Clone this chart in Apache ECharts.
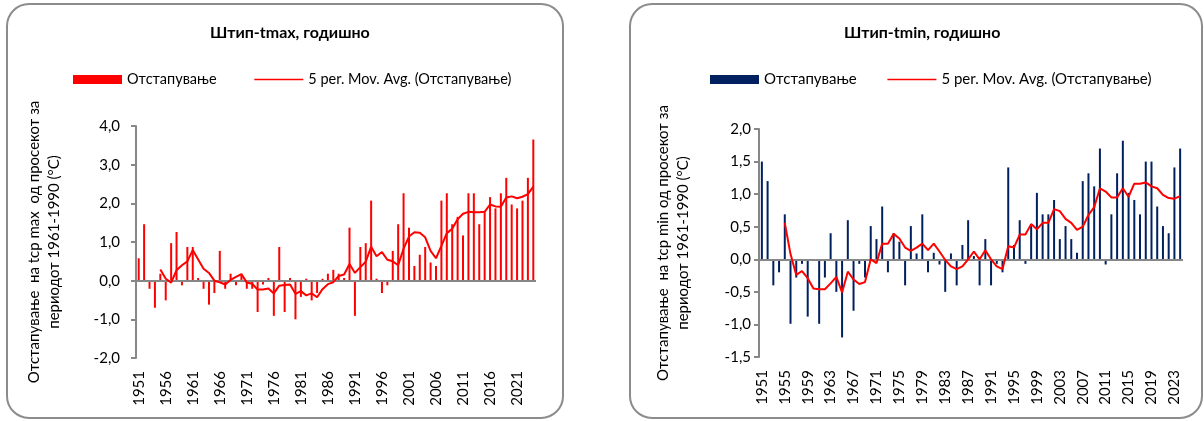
<!DOCTYPE html>
<html>
<head>
<meta charset="utf-8">
<script src="https://cdn.jsdelivr.net/npm/echarts@6/dist/echarts.min.js"></script>
<style>
html,body{margin:0;padding:0;background:#fff;}
#left{position:absolute;left:0;top:0;width:600px;height:421px;}
#right{position:absolute;left:600px;top:0;width:604px;height:421px;}
</style>
</head>
<body>
<div id="left"></div>
<div id="right"></div>
<script>
// categories
const years = ["1951","1952","1953","1954","1955","1956","1957","1958","1959","1960",
	"1961","1962","1963","1964","1965","1966","1967","1968","1969","1970",
	"1971","1972","1973","1974","1975","1976","1977","1978","1979","1980",
	"1981","1982","1983","1984","1985","1986","1987","1988","1989","1990",
	"1991","1992","1993","1994","1995","1996","1997","1998","1999","2000",
	"2001","2002","2003","2004","2005","2006","2007","2008","2009","2010",
	"2011","2012","2013","2014","2015","2016","2017","2018","2019","2020",
	"2021","2022","2023","2024"];

// tmax: deviation and 5-year moving average
const tmaxDev = [0.58,1.46,-0.21,-0.70,0.18,-0.51,0.97,1.26,-0.12,0.87,
	0.87,0.07,-0.21,-0.62,-0.32,0.77,-0.21,0.18,-0.12,0.15,
	-0.21,-0.21,-0.81,-0.10,0.07,-0.91,0.87,-0.81,0.07,-1.00,
	-0.42,0.05,-0.51,-0.32,0.05,0.18,0.28,0.18,0.07,1.37,
	-0.91,0.87,0.97,2.07,0.05,-0.32,-0.12,0.77,1.46,2.26,
	1.37,0.38,0.67,0.87,0.47,0.38,2.07,2.26,1.46,1.65,
	1.17,2.26,2.26,1.46,1.77,2.16,1.87,2.26,2.66,1.97,
	1.87,2.07,2.66,3.65];
const tmaxAvg = [null,null,null,null,
	0.29,0.05,-0.05,0.27,0.40,0.50,0.79,0.55,0.31,0.20,
	0.00,-0.04,-0.10,0.02,0.10,0.17,-0.05,-0.08,-0.23,-0.23,
	-0.20,-0.33,-0.13,-0.11,-0.10,-0.34,-0.27,-0.38,-0.33,-0.43,
	-0.22,-0.09,-0.04,0.12,0.16,0.43,0.20,0.35,0.49,0.88,
	0.63,0.74,0.54,0.50,0.40,0.83,1.14,1.25,1.24,1.12,
	0.77,0.58,0.90,1.23,1.34,1.59,1.73,1.78,1.77,1.77,
	1.78,1.97,1.92,1.91,2.15,2.18,2.13,2.17,2.24,2.43];

// tmin: deviation and 5-year moving average
const tminDev = [1.50,1.20,-0.40,-0.20,0.69,-0.99,-0.28,-0.07,-0.88,0.00,
	-0.99,-0.28,0.40,-0.50,-1.20,0.60,-0.79,-0.07,-0.28,0.51,
	0.31,0.81,-0.20,0.40,0.27,-0.40,0.51,0.09,0.69,-0.20,
	0.10,-0.08,-0.50,0.09,-0.40,0.22,0.60,0.05,-0.40,0.31,
	-0.40,-0.07,-0.20,1.41,0.22,0.60,-0.07,0.51,1.02,0.69,
	0.69,0.91,0.31,0.51,0.31,0.10,1.20,1.32,1.12,1.70,
	-0.08,0.69,1.32,1.82,1.02,0.91,0.69,1.50,1.50,0.81,
	0.51,0.40,1.41,1.70];
const tminAvg = [null,null,null,null,
	0.56,0.08,-0.24,-0.18,-0.29,-0.45,-0.46,-0.46,-0.37,-0.27,
	-0.51,-0.19,-0.31,-0.38,-0.35,0.00,-0.06,0.24,0.24,0.39,
	0.32,0.18,0.13,0.18,0.24,0.14,0.24,0.12,-0.01,-0.11,
	-0.15,-0.11,0.00,0.12,0.00,0.14,0.00,-0.11,-0.15,0.20,
	0.18,0.38,0.38,0.54,0.46,0.56,0.56,0.77,0.74,0.62,
	0.56,0.45,0.50,0.68,0.80,1.09,1.04,0.95,0.95,1.09,
	0.96,1.16,1.16,1.18,1.12,1.09,0.99,0.94,0.93,0.97];

const barName = "Отстапување";
const avgName = "5 per. Mov. Avg. (Отстапување)";
const font = "Lato, 'Noto Sans', sans-serif";
const axisGray = "#878787";

function makeChart(el, c){
	let chart = echarts.init(document.getElementById(el));
	let option = {
		animation:false,
		textStyle:{fontFamily:font,color:"#000"},
		title:{
			text:c.title,
			left:c.titleLeft,
			top:25,
			padding:0,
			textStyle:{fontFamily:font,fontSize:16,fontWeight:"bold",color:"#000"}
		},
		legend:{
			left:c.legendLeft,
			top:72,
			padding:0,
			itemWidth:49,
			itemHeight:9,
			itemGap:c.legendGap,
			textStyle:{fontFamily:font,fontSize:c.legendFont,color:"#000"},
			data:[
				{name:barName,icon:"rect"},
				{name:avgName,itemStyle:{opacity:0},lineStyle:{width:1.5}}
			]
		},
		graphic:[{
			type:"rect",
			shape:{x:c.frame[0],y:c.frame[1],width:c.frame[2],height:c.frame[3],r:22},
			style:{fill:"none",stroke:"#8c8c8c",lineWidth:2},
			silent:true
		}],
		grid:{left:c.grid[0],top:c.grid[1],width:c.grid[2],height:c.grid[3]},
		xAxis:{
			type:"category",
			data:years,
			axisLine:{show:false},
			axisTick:{show:false},
			axisLabel:{
				rotate:90,
				interval:c.labelStep-1,
				margin:13,
				fontSize:15,
				color:"#000",
				fontFamily:font
			}
		},
		yAxis:{
			type:"value",
			min:c.min,
			max:c.max,
			interval:c.step,
			name:c.yName,
			nameLocation:"middle",
			nameRotate:90,
			nameGap:c.nameGap,
			nameTextStyle:{fontFamily:font,fontSize:15,lineHeight:20,color:"#000"},
			axisLine:{show:true,lineStyle:{color:axisGray,width:2}},
			axisTick:{show:true,length:5,lineStyle:{color:axisGray,width:2}},
			splitLine:{show:false},
			axisLabel:{
				margin:c.labelMargin,
				fontSize:15,
				color:"#000",
				fontFamily:font,
				formatter:function(v){return v.toFixed(1).replace(".",",");}
			}
		},
		series:[{
			name:barName,
			type:"bar",
			data:c.dev,
			barWidth:2,
			itemStyle:{color:c.barColor},
			markLine:{
				silent:true,
				symbol:["none","none"],
				label:{show:false},
				lineStyle:{color:axisGray,width:2,type:"solid"},
				data:[{yAxis:0}]
			}
		},{
			name:avgName,
			type:"line",
			data:c.avg,
			z:5,
			symbol:"none",
			lineStyle:{color:"#ff0000",width:2},
			itemStyle:{color:"#ff0000"}
		}]
	};
	chart.setOption(option);
	return chart;
}

makeChart("left",{
	title:"Штип-tmax, годишно",
	titleLeft:210,
	legendLeft:73,
	legendGap:37,
	legendFont:14.5,
	frame:[7,4,556,414],
	grid:[136,126,400,232],
	min:-2,max:4,step:1,
	labelMargin:16,
	labelStep:5,
	nameGap:72,
	yName:"Отстапување  на tcp max  од просекот за\nпериодот 1961-1990 (°C)",
	dev:tmaxDev,
	avg:tmaxAvg,
	barColor:"#ff0000"
});

makeChart("right",{
	title:"Штип-tmin, годишно",
	titleLeft:244,
	legendLeft:110,
	legendGap:30,
	legendFont:15,
	frame:[30,4,572,414],
	grid:[159,129,424,228],
	min:-1.5,max:2,step:0.5,
	labelMargin:8,
	labelStep:4,
	nameGap:66,
	yName:"Отстапување  на tcp min од просекот за\nпериодот 1961-1990 (°C)",
	dev:tminDev,
	avg:tminAvg,
	barColor:"#002060"
});
</script>
</body>
</html>
